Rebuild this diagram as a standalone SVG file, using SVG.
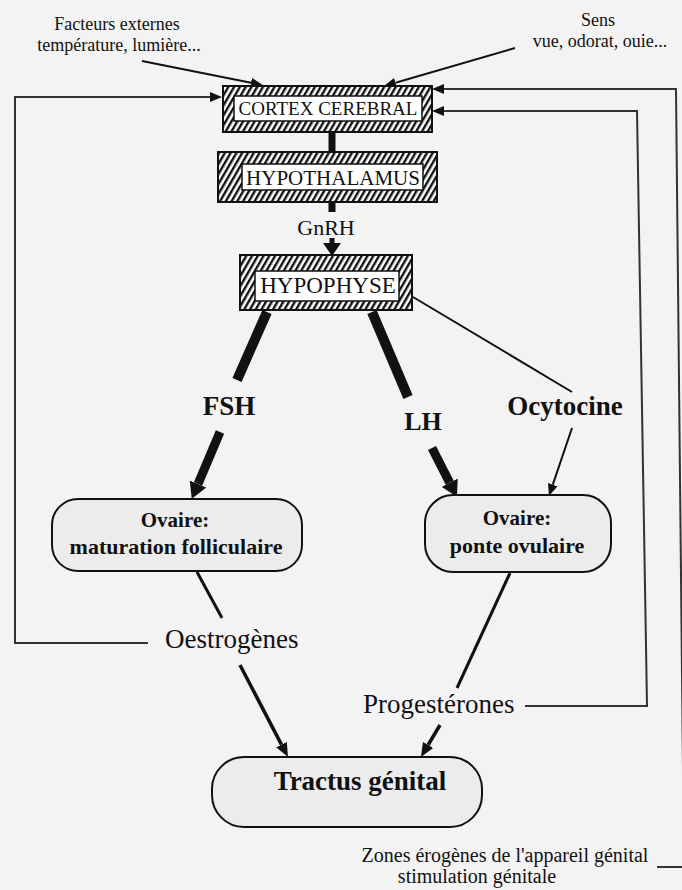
<svg xmlns="http://www.w3.org/2000/svg" width="682" height="890" viewBox="0 0 682 890">
<defs>
<pattern id="hatch" patternUnits="userSpaceOnUse" width="5" height="5" patternTransform="rotate(30)">
<rect x="0" y="0" width="5" height="5" fill="#ffffff"/>
<rect x="0" y="0" width="2.4" height="5" fill="#111"/>
</pattern>
<marker id="ah" markerUnits="userSpaceOnUse" viewBox="0 -6 12 12" markerWidth="12" markerHeight="12" refX="0" refY="0" orient="auto">
<path d="M0,-5 L12,0 L0,5 z" fill="#111"/>
</marker>
<marker id="ahm" markerUnits="userSpaceOnUse" viewBox="0 -7 14 14" markerWidth="14" markerHeight="14" refX="0" refY="0" orient="auto">
<path d="M0,-6 L14,0 L0,6 z" fill="#111"/>
</marker>
<marker id="ahb" markerUnits="userSpaceOnUse" viewBox="0 -9 16 18" markerWidth="16" markerHeight="18" refX="0" refY="0" orient="auto">
<path d="M0,-9 L16,0 L0,9 z" fill="#111"/>
</marker>
</defs>
<style>
text{font-family:"Liberation Serif","Times New Roman",serif;fill:#111}
.hb{fill:url(#hatch);stroke:#111;stroke-width:2}
.ib{fill:#fff;stroke:#111;stroke-width:1.5}
.ov{fill:#ececec;stroke:#111;stroke-width:2}
.c{fill:none;stroke:#111;stroke-linecap:butt}
.t1{stroke-width:2}
.t2{stroke-width:3}
.fb{stroke-width:2;stroke:#333;fill:none}
.thick{stroke-width:9}
.mid{text-anchor:middle}
.b{font-weight:bold}
</style>
<rect x="0" y="0" width="682" height="890" fill="#f3f3f3"/>

<g id="labels-top">
<text x="117" y="30" font-size="18" class="mid">Facteurs externes</text>
<text x="119" y="51" font-size="18" class="mid">température, lumière...</text>
<text x="598" y="26" font-size="18" class="mid">Sens</text>
<text x="600" y="47" font-size="18" class="mid">vue, odorat, ouie...</text>
</g>

<g id="connectors">
<line class="c t1" x1="142" y1="61" x2="251" y2="82.7" marker-end="url(#ah)"/>
<line class="c t1" x1="515" y1="48" x2="395.5" y2="82.7" marker-end="url(#ah)"/>
<polyline class="c fb" points="148,643 15,643 15,97 210,97" marker-end="url(#ah)"/>
<polyline class="c fb" points="657,867 684,867 676,89 444,89" marker-end="url(#ah)"/>
<polyline class="c fb" points="525,706 647,706 637,111 444,111" marker-end="url(#ah)"/>
<line class="c" stroke-width="7" x1="332" y1="132" x2="332" y2="152"/>
<line class="c" stroke-width="7" x1="332" y1="202" x2="332" y2="212"/>
<line class="c" stroke-width="5" x1="332" y1="238" x2="332" y2="244"/>
<polygon points="323,243 341,243 332,256" fill="#111"/>
<line class="c" stroke-width="10" x1="267" y1="312" x2="237" y2="380"/>
<line class="c thick" x1="220" y1="432" x2="198" y2="484" marker-end="url(#ahb)"/>
<line class="c" stroke-width="10" x1="372" y1="312" x2="408" y2="397"/>
<line class="c thick" x1="432" y1="448" x2="449.7" y2="482.7" marker-end="url(#ahb)"/>
<line class="c t1" x1="413" y1="297" x2="572" y2="392"/>
<line class="c t1" x1="572" y1="428" x2="552.8" y2="484.6" marker-end="url(#ah)"/>
<line class="c t2" x1="197" y1="572" x2="222" y2="618"/>
<line class="c" stroke-width="3.5" x1="240" y1="665" x2="281.5" y2="744.6" marker-end="url(#ahm)"/>
<line class="c t2" x1="510" y1="573" x2="457" y2="688"/>
<line class="c" stroke-width="3.5" x1="440" y1="725" x2="428.1" y2="745" marker-end="url(#ahm)"/>
</g>

<g id="cortex">
<rect class="hb" x="223" y="86" width="209" height="46"/>
<rect class="ib" x="234" y="96" width="188" height="25"/>
<text x="328" y="115" font-size="19" class="mid">CORTEX CEREBRAL</text>
</g>

<g id="hypothalamus">
<rect class="hb" x="218" y="152" width="219" height="50"/>
<rect class="ib" x="242" y="164" width="181" height="26"/>
<text x="333" y="185" font-size="21" class="mid">HYPOTHALAMUS</text>
</g>

<text x="326" y="235" font-size="22" class="mid">GnRH</text>

<g id="hypophyse">
<rect class="hb" x="240" y="255" width="172" height="55"/>
<rect class="ib" x="255" y="271" width="144" height="30"/>
<text x="328" y="293" font-size="23" class="mid">HYPOPHYSE</text>
</g>

<g id="hormones">
<text x="229" y="415" font-size="27" class="mid b">FSH</text>
<text x="423" y="430" font-size="26" class="mid b">LH</text>
<text x="565" y="415" font-size="27" class="mid b">Ocytocine</text>
</g>

<g id="ovaire-follicule">
<rect class="ov" x="52" y="499" width="250" height="72" rx="26" ry="26"/>
<text x="175" y="527" font-size="21" class="mid b">Ovaire:</text>
<text x="176" y="554" font-size="22" class="mid b">maturation folliculaire</text>
</g>

<g id="ovaire-ponte">
<rect class="ov" x="425" y="495" width="186" height="77" rx="28" ry="28"/>
<text x="517" y="525" font-size="21" class="mid b">Ovaire:</text>
<text x="517" y="553" font-size="22" class="mid b">ponte ovulaire</text>
</g>

<g id="oestrogenes">
<text x="165" y="648" font-size="27">Oestrogènes</text>
</g>

<g id="progesterones">
<text x="363" y="713" font-size="27">Progestérones</text>
</g>

<g id="tractus">
<rect class="ov" x="212" y="757" width="270" height="70" rx="32" ry="32"/>
<text x="360" y="790" font-size="27" class="mid b">Tractus génital</text>
</g>

<g id="zones">
<text x="505" y="862" font-size="20" class="mid">Zones érogènes de l'appareil génital</text>
<text x="477" y="883" font-size="20" class="mid">stimulation génitale</text>
</g>
</svg>
